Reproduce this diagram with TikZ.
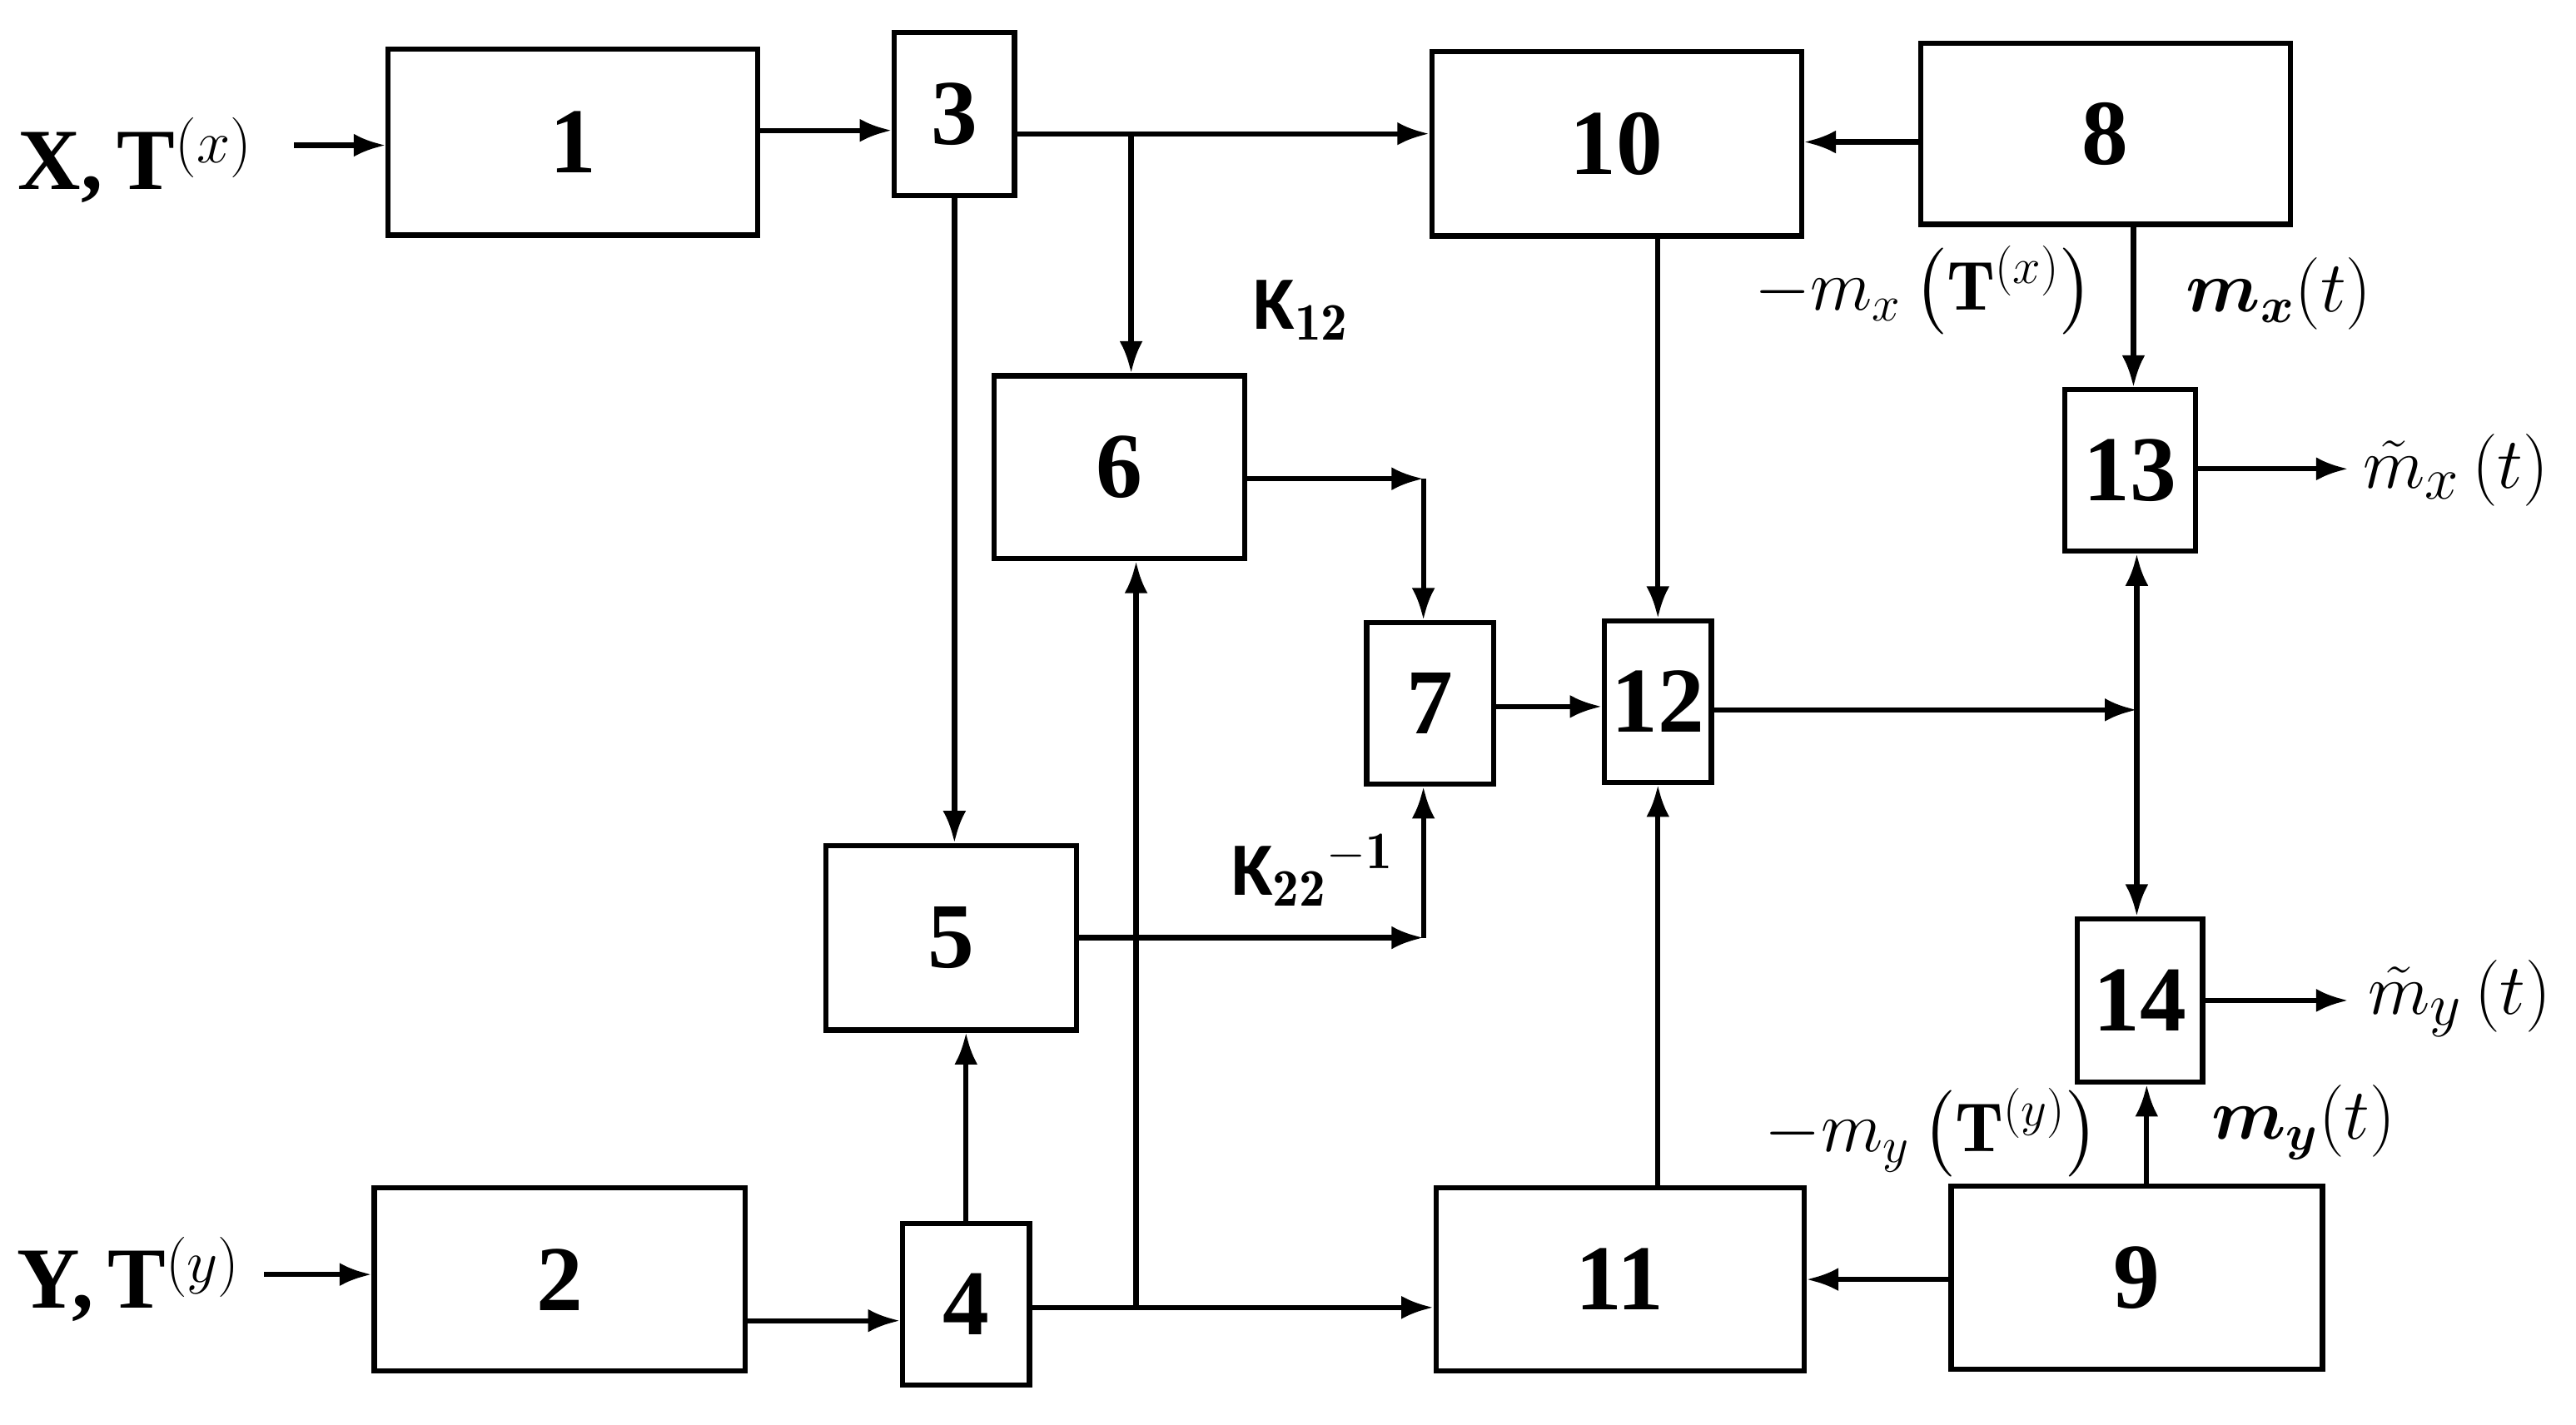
\documentclass[tikz,border=0pt]{standalone}
\usepackage{amsmath}
\usepackage{fontspec}
\newfontfamily\sansb{Carlito}
\newfontfamily\tnr{Liberation Serif}
\usetikzlibrary{arrows.meta}
\begin{document}
\begin{tikzpicture}[x=0.02cm,y=-0.02cm,
  box/.style={draw,line width=1.8pt,inner sep=0,font=\tnr\fontsize{32}{34}\selectfont\bfseries},
  ar/.style={line width=1.8pt,-{Latex[length=11pt,width=8pt]}},
  lab/.style={font=\fontsize{24}{28}\selectfont}]
\useasboundingbox (0,0) rectangle (1560,863);
\newcommand\bx[6]{\node[box,minimum width=#4*0.02cm-1.8pt,minimum height=#5*0.02cm-1.8pt] (#1) at (#2,#3) {#6};}
\bx{n1}{347}{86}{227}{116}{1}
\bx{n3}{578}{69}{76}{102}{3}
\bx{n10}{979}{87}{227}{115}{10}
\bx{n8}{1275}{81}{227}{113}{8}
\bx{n6}{678}{283}{155}{114}{6}
\bx{n7}{866}{426}{80}{101}{7}
\bx{n12}{1004}{425}{68}{101}{12}
\bx{n13}{1290}{285}{82}{101}{13}
\bx{n5}{576}{568}{155}{115}{5}
\bx{n14}{1296}{606}{79}{102}{14}
\bx{n2}{339}{775}{228}{114}{2}
\bx{n4}{585}{790}{80}{101}{4}
\bx{n11}{981}{775}{226}{114}{11}
\bx{n9}{1294}{774}{228}{114}{9}
\node[font=\tnr\fontsize{30}{32}\selectfont\bfseries] (tx) at (82,97) {X,\,T$^{(x)}$};
\node[font=\tnr\fontsize{30}{32}\selectfont\bfseries] (ty) at (78,775) {Y,\,T$^{(y)}$};
\coordinate (ix) at (178,88);
\coordinate (iy) at (160,772);
\draw[ar] (ix) -- (n1.west |- ix);
\draw[ar] (iy) -- (n2.west |- iy);
\draw[ar] (n1.east |- 0,79) -- (n3.west |- 0,79);
\draw[ar] (n2.east |- 0,800) -- (n4.west |- 0,800);
\coordinate (b1) at (685,81);
\draw[ar] (n3.east |- b1) -- (n10.west |- b1);
\draw[ar] (b1) -- (b1 |- n6.north);
\draw[ar] (n3.south) -- (n3.south |- n5.north);
\coordinate (c6) at (862,290);
\draw[ar] (n6.east |- c6) -- (c6);
\draw[ar] (c6) -- (c6 |- n7.north);
\coordinate (c5) at (862,568);
\draw[ar] (n5.east) -- (c5);
\draw[ar] (c5) -- (c5 |- n7.south);
\draw[ar] (n7.east |- 0,428) -- (n12.west |- 0,428);
\coordinate (c12) at (1294,430);
\draw[ar] (n12.east |- c12) -- (c12);
\draw[ar] (c12) -- (c12 |- n13.south);
\draw[ar] (c12) -- (c12 |- n14.north);
\draw[ar] (n10.south -| n12.north) -- (n12.north);
\draw[ar] (n11.north -| n12.south) -- (n12.south);
\draw[ar] (n8.west |- 0,86) -- (n10.east |- 0,86);
\draw[ar] (n8.south -| 1292,0) -- (n13.north -| 1292,0);
\coordinate (o13) at (1422,284);
\coordinate (o14) at (1422,606);
\draw[ar] (n13.east |- o13) -- (o13);
\draw[ar] (n14.east |- o14) -- (o14);
\draw[ar] (n9.north -| 1300,0) -- (n14.south -| 1300,0);
\draw[ar] (n9.west |- 0,775) -- (n11.east |- 0,775);
\draw[ar] (n4.north) -- (n4.north |- n5.south);
\coordinate (b4) at (688,792);
\draw[ar] (n4.east |- b4) -- (n11.west |- b4);
\draw[ar] (b4) -- (b4 |- n6.south);
\node[font=\sansb\fontsize{26}{28}\selectfont\bfseries] (k12) at (788,188) {K$_{\mathbf{12}}$};
\node[font=\sansb\fontsize{26}{28}\selectfont\bfseries] (k22) at (795,527) {K$_{\mathbf{22}}{}^{\mathbf{-1}}$};
\node[lab] (l1) at (1165,176) {$-m_x\left(\mathbf{T}^{(x)}\right)$};
\node[lab] (l2) at (1380,178) {$\boldsymbol{m_x}(t)$};
\node[lab] (l3) at (1170,686) {$-m_y\left(\mathbf{T}^{(y)}\right)$};
\node[lab] (l4) at (1395,680) {$\boldsymbol{m_y}(t)$};
\node[font=\fontsize{28}{30}\selectfont,anchor=west] (l5) at (1425,285) {$\tilde m_x\left(t\right)$};
\node[font=\fontsize{28}{30}\selectfont,anchor=west] (l6) at (1428,605) {$\tilde m_y\left(t\right)$};
\end{tikzpicture}
\end{document}
